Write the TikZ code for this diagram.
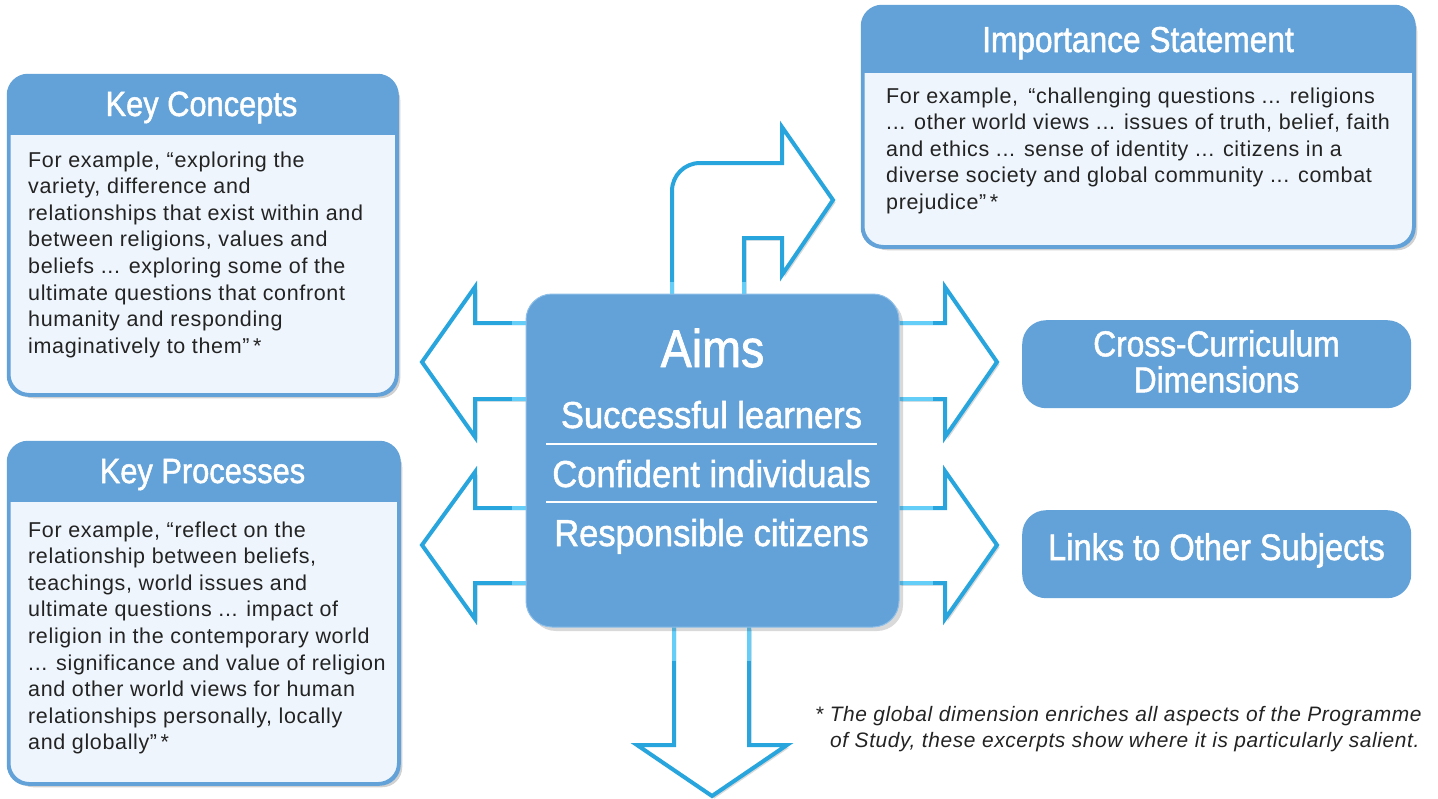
\documentclass[tikz,border=0pt]{standalone}
\usepackage{fontspec}
\setmainfont{Liberation Sans}
\newfontfamily\condfont[FakeStretch=0.88,FakeBold=1.4]{Liberation Sans}
\newfontfamily\aimsfont[FakeStretch=0.92,FakeBold=1.4]{Liberation Sans}
\newfontfamily\bodyfont[LetterSpace=3]{Liberation Sans}
\usetikzlibrary{shadows}
\definecolor{hdr}{RGB}{98,162,216}
\definecolor{lightbg}{RGB}{238,245,252}
\definecolor{arrowblue}{RGB}{41,165,221}
\definecolor{arrowcyan}{RGB}{100,205,248}
\definecolor{aimsedge}{RGB}{140,190,232}
\definecolor{txt}{RGB}{35,35,35}
\tikzset{
  panel/.style={rectangle, draw=hdr, line width=2.5pt, fill=lightbg, rounded corners=20pt,
    inner sep=0pt, anchor=north west,
    drop shadow={shadow xshift=4pt, shadow yshift=-4pt, opacity=0.18, fill=black}},
  solidbox/.style={rectangle, fill=hdr, rounded corners=24pt, inner sep=0pt, anchor=north west},
  aimsbox/.style={rectangle, fill=hdr, draw=aimsedge, line width=1pt, rounded corners=26pt, inner sep=0pt,
    drop shadow={shadow xshift=4pt, shadow yshift=-4pt, opacity=0.15, fill=black}},
  ttl/.style={text=white, inner sep=0pt, anchor=base, font=\condfont\fontsize{35}{40}\selectfont},
  aimsitem/.style={text=white, inner sep=0pt, anchor=base, font=\aimsfont\fontsize{37.5}{42}\selectfont},
  bodytxt/.style={text=txt, inner sep=0pt, anchor=base west},
  blockarrow/.style={draw=arrowblue, line width=4pt, fill=white, line join=miter,
    drop shadow={shadow xshift=2.5pt, shadow yshift=-2.5pt, opacity=0.15, fill=black}},
  fadeseg/.style={draw=arrowcyan, line width=4pt},
}
\newcommand{\bodypar}[2]{\parbox[t]{#1}{\bodyfont\fontsize{21.5}{26.6}\selectfont\raggedright\parindent=0pt #2}}
\begin{document}
\begin{tikzpicture}[x=1pt,y=-1pt]
\useasboundingbox[fill=white] (0,0) rectangle (1438,798);

% ---------- block arrows (drawn first, Aims box on top) ----------
% left upper
\path[blockarrow] (526,323) -- (475,323) -- (475,287) -- (422,362) -- (475,437) -- (475,399) -- (526,399);
\draw[fadeseg] (512,323) -- (526,323) (512,399) -- (526,399);
% left lower
\path[blockarrow] (526,508) -- (475,508) -- (475,472) -- (422,545) -- (475,619) -- (475,583) -- (526,583);
\draw[fadeseg] (512,508) -- (526,508) (512,583) -- (526,583);
% right upper
\path[blockarrow] (899,323) -- (945,323) -- (945,287) -- (997,362) -- (945,437) -- (945,399) -- (899,399);
\draw[fadeseg] (899,323) -- (933,323) (899,399) -- (933,399);
% right lower
\path[blockarrow] (899,508) -- (945,508) -- (945,471) -- (997,545) -- (945,619) -- (945,583) -- (899,583);
\draw[fadeseg] (899,508) -- (933,508) (899,583) -- (933,583);
% up (bent) arrow
\path[blockarrow] (672,294) -- (672,191) .. controls (672,175.5) and (684.5,163) .. (700,163) -- (782,163) -- (782,127) -- (833,200) -- (782,275) -- (782,238) -- (744,238) -- (744,294);
\draw[fadeseg] (672,282) -- (672,294) (744,282) -- (744,294);
% down arrow
\path[blockarrow] (674,627) -- (674,745) -- (637,745) -- (712,796) -- (787,745) -- (749,745) -- (749,627);
\draw[fadeseg] (674,627) -- (674,661) (749,627) -- (749,661);

% ---------- Aims ----------
\node[aimsbox, minimum width=373pt, minimum height=333pt] (aims) at (712.5,460.5) {};
\node[ttl, font=\condfont\fontsize{53}{58}\selectfont] (aimst) at (712.5,367) {Aims};
\node[aimsitem] (a1) at (711.5,428) {Successful learners};
\node[aimsitem] (a2) at (711.5,487) {Confident individuals};
\node[aimsitem] (a3) at (711.5,546) {Responsible citizens};
\draw[white, line width=1.3pt] (546,444) -- (877,444);
\draw[white, line width=1.3pt] (546,502) -- (877,502);

% ---------- Key Concepts ----------
\node[panel, minimum width=387pt, minimum height=318pt] (kc) at (8,75) {};
\begin{scope}
\clip[rounded corners=20pt] (kc.south west) rectangle (kc.north east);
\fill[hdr] (8,75) rectangle (395,135);
\end{scope}
\draw[hdr, line width=2.5pt, rounded corners=20pt] (kc.south west) rectangle (kc.north east);
\node[ttl] (kct) at (201.5,116) {Key Concepts};
\node[bodytxt] (kcb) at (28,167) {\bodypar{365pt}{For example, “exploring the\\
variety, difference and\\
relationships that exist within and\\
between religions, values and\\
beliefs ... exploring some of the\\
ultimate questions that confront\\
humanity and responding\\
imaginatively to them”\,*}};

% ---------- Key Processes ----------
\node[panel, minimum width=389pt, minimum height=340pt] (kp) at (8,442) {};
\begin{scope}
\clip[rounded corners=20pt] (kp.south west) rectangle (kp.north east);
\fill[hdr] (8,442) rectangle (397,502);
\end{scope}
\draw[hdr, line width=2.5pt, rounded corners=20pt] (kp.south west) rectangle (kp.north east);
\node[ttl] (kpt) at (202.5,483) {Key Processes};
\node[bodytxt] (kpb) at (28,537) {\bodypar{365pt}{For example, “reflect on the\\
relationship between beliefs,\\
teachings, world issues and\\
ultimate questions ... impact of\\
religion in the contemporary world\\
... significance and value of religion\\
and other world views for human\\
relationships personally, locally\\
and globally”\,*}};

% ---------- Importance Statement ----------
\node[panel, minimum width=550pt, minimum height=239pt] (imp) at (862,6) {};
\begin{scope}
\clip[rounded corners=20pt] (imp.south west) rectangle (imp.north east);
\fill[hdr] (862,6) rectangle (1412,73);
\end{scope}
\draw[hdr, line width=2.5pt, rounded corners=20pt] (imp.south west) rectangle (imp.north east);
\node[ttl, font=\condfont\fontsize{36}{40}\selectfont] (impt) at (1138,52) {Importance Statement};
\node[bodytxt] (impb) at (886,103) {\bodypar{520pt}{For example, \,“challenging questions ... religions\\
... other world views ... issues of truth, belief, faith\\
and ethics ... sense of identity ... citizens in a\\
diverse society and global community ... combat\\
prejudice”\,*}};

% ---------- Cross-Curriculum / Links ----------
\node[solidbox, minimum width=389pt, minimum height=88pt] (ccd) at (1022,320) {};
\node[ttl, font=\condfont\fontsize{36}{36}\selectfont, align=center, anchor=north] (ccdt) at (1216.5,330)
  {Cross-Curriculum\\Dimensions};
\node[solidbox, minimum width=389pt, minimum height=88pt] (lnk) at (1022,510) {};
\node[ttl, font=\condfont\fontsize{37}{40}\selectfont] (lnkt) at (1216.5,560) {Links to Other Subjects};

% ---------- footnote ----------
\node[bodytxt, text=txt] (fn1) at (815,721) {\bodyfont\itshape\fontsize{20.9}{26}\selectfont * The global dimension enriches all aspects of the Programme};
\node[bodytxt, text=txt] (fn2) at (830,747) {\bodyfont\itshape\fontsize{20.9}{26}\selectfont of Study, these excerpts show where it is particularly salient.};
\end{tikzpicture}
\end{document}
